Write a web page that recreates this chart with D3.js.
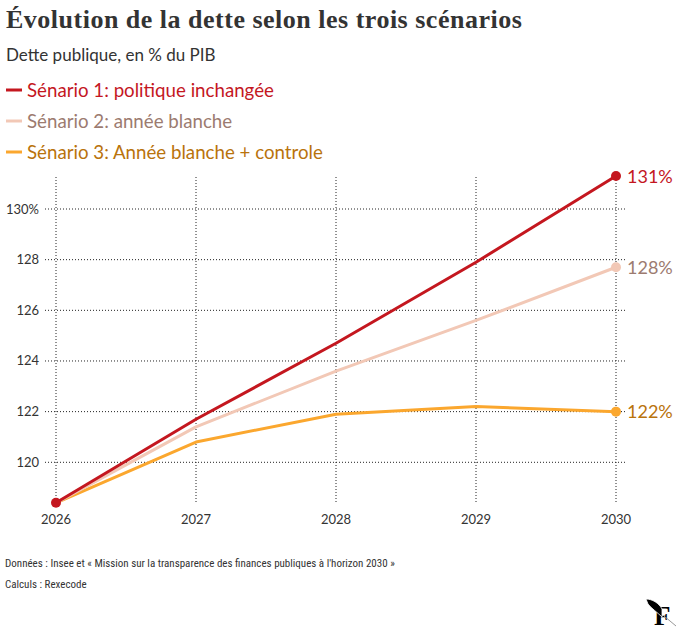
<!DOCTYPE html>
<html>
<head>
<meta charset="utf-8">
<script src="https://cdn.jsdelivr.net/npm/d3@7"></script>
<style>
  body { margin: 0; background: #fff; }
  svg { display: block; }
</style>
</head>
<body>
<svg id="chart" width="687" height="643"></svg>
<script>
// data
var years = [2026, 2027, 2028, 2029, 2030];
var scenario1 = [118.4, 121.7, 124.7, 127.9, 131.3];
var scenario2 = [118.4, 121.4, 123.6, 125.6, 127.7];
var scenario3 = [118.4, 120.8, 121.9, 122.2, 122.0];
var seriesNames = ["Sénario 1: politique inchangée", "Sénario 2: année blanche", "Sénario 3: Année blanche + controle"];
var endLabels = ["131%", "128%", "122%"];
var yTicks = [120, 122, 124, 126, 128, 130];

var lineColors = ["#c4171f", "#f2c8b6", "#fba72e"];
var textColors = ["#c4171f", "#9c7b70", "#b9730c"];

var series = [scenario1, scenario2, scenario3];

var svg = d3.select("#chart");
var sans = "Lato, 'Open Sans', sans-serif";

svg.append("text")
    .attr("x", 6).attr("y", 28)
    .attr("font-family", "'Liberation Serif', 'DejaVu Serif', serif")
    .attr("font-weight", "bold")
    .attr("font-size", 26)
    .attr("letter-spacing", 0.5)
    .attr("fill", "#333")
    .text("Évolution de la dette selon les trois scénarios");

svg.append("text")
    .attr("x", 6).attr("y", 61)
    .attr("font-family", sans)
    .attr("font-size", 17)
    .attr("fill", "#333")
    .text("Dette publique, en % du PIB");

// legend
var legend = svg.selectAll(".legend")
    .data(seriesNames)
    .enter().append("g")
    .attr("transform", (d, i) => `translate(6, ${90 + i * 31})`);

legend.append("line")
    .attr("x1", 0).attr("x2", 16)
    .attr("stroke", (d, i) => lineColors[i])
    .attr("stroke-width", 3);

legend.append("text")
    .attr("x", 21).attr("y", 7)
    .attr("font-family", sans)
    .attr("font-size", 18.7)
    .attr("fill", (d, i) => textColors[i])
    .text(d => d);

// scales
var x = d3.scaleLinear().domain([2026, 2030]).range([56, 616]);
var y = d3.scaleLinear().domain([120, 130]).range([462.3, 209]);

// grid
var grid = svg.append("g");
grid.selectAll(".hgrid")
    .data(yTicks)
    .enter().append("line")
    .attr("x1", 45).attr("x2", 626)
    .attr("y1", d => y(d)).attr("y2", d => y(d))
    .attr("stroke", "#222")
    .attr("stroke-width", 1)
    .attr("stroke-dasharray", "1,2");

grid.selectAll(".vgrid")
    .data(years)
    .enter().append("line")
    .attr("x1", d => x(d)).attr("x2", d => x(d))
    .attr("y1", 177).attr("y2", 503)
    .attr("stroke", "#222")
    .attr("stroke-width", 1)
    .attr("stroke-dasharray", "1,2");

// axes labels
svg.selectAll(".ylab")
    .data(yTicks)
    .enter().append("text")
    .attr("x", 39)
    .attr("y", d => y(d) + 4.5)
    .attr("text-anchor", "end")
    .attr("font-family", sans)
    .attr("font-size", 13)
    .attr("fill", "#333")
    .text(d => d == 130 ? d + "%" : d);

svg.selectAll(".xlab")
    .data(years)
    .enter().append("text")
    .attr("x", d => x(d))
    .attr("y", 524)
    .attr("text-anchor", "middle")
    .attr("font-family", sans)
    .attr("font-size", 13)
    .attr("fill", "#333")
    .text(d => d);

// lines
var line = d3.line()
    .x((d, i) => x(years[i]))
    .y(d => y(d));

// draw in reverse so red is on top
[2, 1, 0].forEach(function(k) {
    svg.append("path")
        .datum(series[k])
        .attr("d", line)
        .attr("fill", "none")
        .attr("stroke", lineColors[k])
        .attr("stroke-width", 3)
        .attr("stroke-linejoin", "round");

    var last = series[k].length - 1;
    svg.append("circle")
        .attr("cx", x(years[last]))
        .attr("cy", y(series[k][last]))
        .attr("r", 5)
        .attr("fill", lineColors[k]);

    svg.append("text")
        .attr("x", x(years[last]) + 11)
        .attr("y", y(series[k][last]) + 6.5)
        .attr("font-family", sans)
        .attr("font-size", 18)
        .attr("fill", textColors[k])
        .text(endLabels[k]);
});

svg.append("circle")
    .attr("cx", x(years[0]))
    .attr("cy", y(scenario1[0]))
    .attr("r", 5)
    .attr("fill", lineColors[0]);

// footer
var foot = "'Liberation Sans Narrow', 'Roboto Condensed', 'Noto Sans', sans-serif";
svg.append("text")
    .attr("x", 5).attr("y", 567)
    .attr("font-family", foot)
    .attr("font-size", 11)
    .attr("fill", "#333")
    .text("Données : Insee et « Mission sur la transparence des finances publiques à l'horizon 2030 »");

svg.append("text")
    .attr("x", 5).attr("y", 588)
    .attr("font-family", foot)
    .attr("font-size", 11)
    .attr("fill", "#333")
    .text("Calculs : Rexecode");

// small logo
var logo = svg.append("g").attr("transform", "translate(646, 598)");
logo.append("text")
    .attr("x", 8).attr("y", 27)
    .attr("font-family", "'Liberation Serif', serif")
    .attr("font-weight", "900")
    .attr("font-size", 27)
    .attr("fill", "#000")
    .text("F");
logo.append("path")
    .attr("d", "M0,1 C6,1 13,5 16,11 L16,19 C12,15 5,10 2,6 Z")
    .attr("fill", "#000")
    .attr("stroke", "#fff")
    .attr("stroke-width", 0.8);
logo.append("line")
    .attr("x1", 18).attr("y1", 18).attr("x2", 30).attr("y2", 28)
    .attr("stroke", "#999").attr("stroke-width", 1);
</script>
</body>
</html>
